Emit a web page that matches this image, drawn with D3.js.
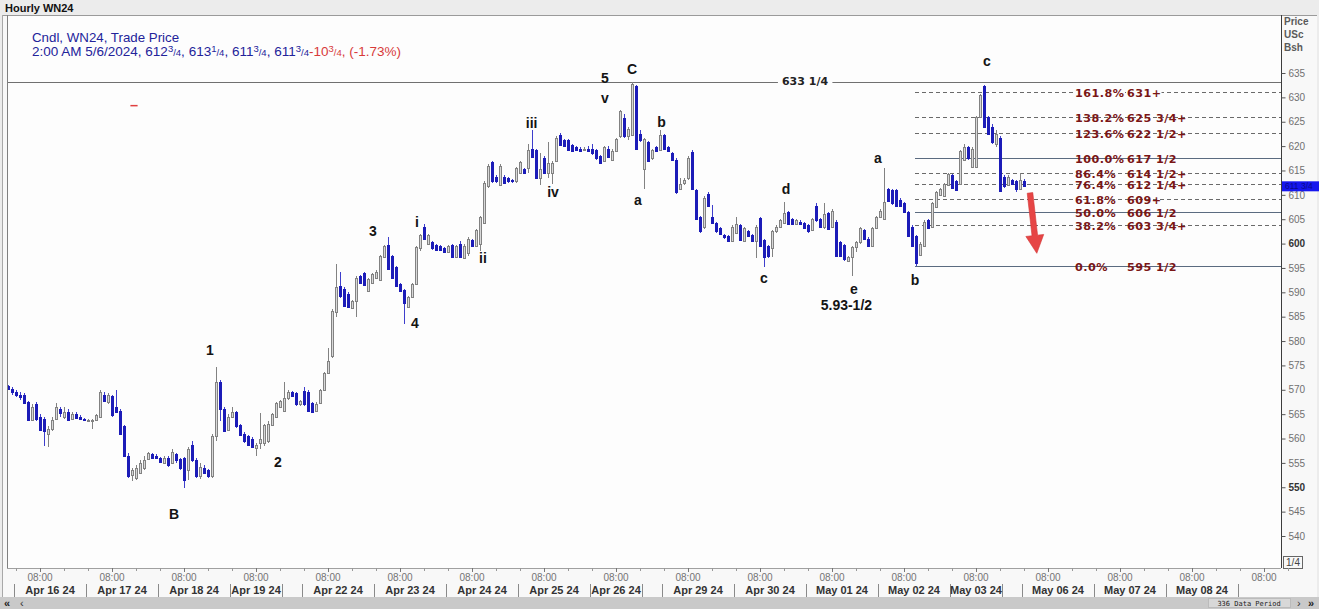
<!DOCTYPE html>
<html><head><meta charset="utf-8">
<script src="https://cdn.jsdelivr.net/npm/d3@7"></script>
<style>
html,body{margin:0;padding:0;background:#e9e9e9;overflow:hidden;}
svg{display:block;}
</style></head><body>
<svg id="c" width="1319" height="609"></svg>
<script>
// ---------- DATA ----------
// hourly candles [open, high, low, close], bar index 0 = first bar on the left
const candles = [
[570.75,571,570,570.25],[570.25,570.5,569,569.5],[569.5,570,568.5,569],[569,569.5,568,568.5],[569,569.25,567,567.25],
[567.5,567.75,563.5,563.75],[563.75,567,563.5,566.5],[567,567.5,563.5,564],[564.5,565,561.5,561.75],[564,564.5,558.5,561.5],
[561,562.5,558.25,562],[562,564.5,561.5,563.75],[564,567.25,563.75,566.5],[566,566.5,564.5,565.25],[564.5,566.5,564,565.5],
[565.5,566,563.5,563.75],[564,565.5,563.75,565],[565,565.5,564,564.25],[564.5,564.75,563.75,564],[564,564.25,563.5,563.75],
[563.75,564,563.5,563.75],[563.5,564,562,563.75],[563.75,565,563.5,564.75],[564.5,570,564.25,569.5],[569,569.5,567.5,567.75],
[567.5,569.25,567,569],[568.75,569,564.5,564.75],[566.5,570,565.25,565.5],[565.75,566,561,561],[562.5,562.75,556.25,556.5],
[556.5,557,552,552.25],[552.5,554,551.25,553.5],[552,554.5,551.5,554],[553,555.5,552.75,555],[554,556.5,553.5,555.5],
[555.75,557.25,555.5,557],[556.75,557,555.75,556],[556.5,556.75,555.75,556],[556,556.25,555,555.25],[555,556.5,554.75,556],
[556,556.5,554.25,554.5],[555,557.75,555,557.25],[556.75,557,555,555.5],[555.75,556,553.5,554],[556,556.25,549.75,551.5],
[553.5,558.25,551.5,557.75],[558.75,559.5,555.25,555.5],[555.5,556,552,552.25],[552.25,555,551.75,554.25],[554,554.5,552.75,553],
[553.5,553.75,552,552.25],[552.25,561,552,560.5],[560.5,574.75,559.5,571.5],[571.5,572,563.5,566],[566,566.5,561.25,561.5],
[561.75,565,561.5,564.5],[564.5,566.5,564.25,565.5],[565.5,565.75,562.25,562.5],[562.75,563,560.5,560.75],[561,561.25,559,559.5],
[560.5,560.75,558.5,558.75],[560,560.25,558,558.25],[558,559,556.5,558.75],[559,565.25,557.75,560],[559,563,558.5,562.75],
[559.5,563.5,559,563],[562.75,565.25,562.5,565],[564.5,567.5,564.25,567.25],[566.5,568,566.25,567.75],[565.75,571.5,565.5,568.25],
[568.25,570,568,569.5],[569.5,569.75,568.5,568.75],[569.25,569.5,566.75,567],[567,568,566.75,567.75],[569.75,570.5,566.75,567],
[569.5,570,565.5,565.75],[567.25,567.5,565.25,565.5],[565.75,567.5,565.5,567],[567.25,570.25,567,570],[570,573.75,569.75,573.5],
[573.5,578.5,573.25,576],[577,586.5,576.5,586.25],[586,595.75,585,591],[591.25,594.25,588.75,589.25],[590.75,591,587,587.25],
[589.75,590,586.75,587],[586.75,588.5,586.5,588.25],[588.25,593.25,585,593],[593.25,593.5,591.75,592],[594,594.25,591.25,591.5],
[590.25,593,590,592.75],[592,594,591.75,593.75],[593,594.5,592.75,594.25],[592.5,597.75,592.25,597.5],[597.25,599.75,597,599.5],
[599.75,601.25,594.5,594.75],[597.5,597.75,592.75,593],[595.25,595.5,591,591.25],[591.75,592,590,590.25],[590.5,590.75,583.5,587.75],
[587,589.25,586.75,589],[589,592,588.75,591.75],[591.75,599.5,591.5,599.25],[599,602,598.5,601.75],[603.5,604,600.75,601],
[600,602,599.75,601.75],[600.25,600.5,598.75,599],[599.75,600,598.5,598.75],[599.5,599.75,598.5,598.75],[599,599.25,598,598.25],
[598.25,599.75,598,599.5],[599.75,600,597,597.25],[597.25,599.75,597,599.5],[600,600.5,597,597.25],[597,600,596.75,599.5],
[598,601.25,597.5,601],[600.75,601,599.25,599.5],[599.5,603,599.25,602.75],[600,605.75,598.5,605.5],[604.25,612.75,604,612.5],
[611.75,616.25,611.5,616],[616.75,617,612.5,612.75],[613.75,614,612.5,612.75],[612,616.25,611.75,616],[613.75,614,612.25,612.5],
[613.5,613.75,612.5,612.75],[613,613.25,612.5,612.75],[612.75,615.75,612.5,615.5],[614.5,617,614.25,616.75],[615.25,615.5,614.25,614.5],
[615.5,620.5,614.5,619.25],[619.5,623.25,617.5,617.75],[619.25,619.5,613.25,613.5],[613.5,618.5,612,615.25],[617.5,618,614.25,614.5],
[614.5,620.75,613.5,616.5],[614.5,617,612.25,616.5],[617,622,616.75,621.75],[622.25,622.75,620,620.25],[621.25,621.5,619.75,620],
[621.25,621.5,619,619.25],[620.25,620.5,618.75,619],[619.75,620,619,619.25],[619.5,619.75,618.75,619],[619.25,619.75,619,619.5],
[619.5,620,618.75,619],[619.5,620.5,618.25,618.5],[619.25,619.5,617.25,617.5],[618,618.25,616.25,616.5],[617,620,616.75,619.75],
[619.5,620,617.5,617.75],[617.25,619.5,617,619],[619,621.75,618.75,621.5],[622,627.5,621.75,627.25],[625.75,626.5,621.75,622],
[622,624,621.25,623.5],[622.25,633.25,622,632.75],[632.25,632.5,619.25,619.5],[622.5,623.25,620.75,621.25],[615.25,621.75,611.25,621.5],
[620.75,621,616.75,617],[617.5,619.5,617.25,619.25],[619.75,620,618.75,619],[619.25,623.25,619,622.25],[622.25,622.5,619.25,619.5],
[619.75,620,618.75,619],[618.5,618.75,617,617.25],[617.25,617.5,610.25,610.5],[611.25,613.5,611,612.25],[612.5,613.5,612,613],
[613.5,618,613,617.5],[618.75,619.25,611,611.25],[611,611.25,604.75,605],[605.5,605.75,602.25,602.5],[603.5,609.75,603,609.25],
[610.25,610.5,607.5,607.75],[605.5,608,604,604.25],[604.25,604.5,602.25,602.5],[603.25,603.5,601.75,602],[601.75,602,601,601.25],
[601.5,601.75,600.25,600.5],[600.5,603.75,600.25,603.5],[602.25,605.5,602,604],[603.75,604,600.5,600.75],[600.5,603.5,600.25,603.25],
[602.5,602.75,601.25,601.5],[601.75,602,600.25,600.5],[600.5,603.75,597,603.5],[605.25,605.5,599.25,599.5],[600.75,601,595.25,597.25],
[599.5,599.75,597,597.5],[599,602.75,597.25,602.5],[602.5,603.75,602.25,603.5],[603.5,605,603.25,604.75],[604.25,608.5,604,606.25],
[606.5,606.75,603.75,604],[605,605.25,603.75,604],[604,605,603.75,604.75],[604.5,604.75,603.75,604],[604.25,604.5,603,603.25],
[603.75,604,602.25,602.5],[602.75,605.25,602.5,605],[607.75,608.25,604.5,604.75],[605,605.25,603.25,603.5],[603.5,608.25,603,606],
[606.25,606.5,602.75,603],[603.5,607,603.25,606.75],[604.5,604.75,597.25,597.5],[600.25,600.5,597.25,597.5],[599.75,600,596.5,596.75],
[596.5,597.5,596.25,597.25],[597.25,599.5,593.25,599.25],[599.25,600.5,598.25,600.25],[600.25,603.5,600,603.25],[602.75,603,600.75,601],
[601,601.25,599.25,599.5],[599.5,603.5,599.25,603.25],[603.25,605.75,603,605.5],[605.5,607,605.25,606.75],[605,615.5,604.75,608.5],
[611.25,611.5,608.5,608.75],[611,611.25,608,608.25],[611,611.25,607.5,607.75],[609,609.25,607.5,607.75],[608.25,608.5,606.25,606.5],
[606.5,606.75,601.25,601.5],[603.5,603.75,599.25,599.5],[601.5,601.75,595.5,596],[597.75,600.25,597.5,600],[599.5,604.75,599.25,604.5],
[604.75,605,603,603.25],[603.5,608.5,603.25,608.25],[607.5,610.75,607.25,610.5],[610,611.5,609.75,611.25],[609.75,612.5,609.5,612.25],
[612,614.5,611.75,614.25],[614,614.25,611.25,611.5],[612.75,613,610.75,611],[612.25,619.25,612,619],[617.25,620.5,617,619.75],
[619.75,620,617.25,617.5],[615.75,619.75,615.5,619.5],[615.75,626.25,615.5,626],[626,630.75,625.75,630.5],[632.25,632.5,623.75,624],
[626,626.25,622.25,622.5],[624,624.5,620.5,620.75],[620.5,623.25,619.75,622.5],[621.75,622,610.5,610.75],[613.75,614,611.5,611.75],
[612,614,611.75,613.75],[613,613.25,612,612.25],[612.75,613,610.5,611.25],[611.25,614.5,611,613],[612.75,613.25,611.75,611.75]
];
const priceTicks = [540,545,550,555,560,565,570,575,580,585,590,595,600,605,610,615,620,625,630,635];
const boldTicks = [550,600];
const hourTicks = [8,26,44,62,80,98,116,134,152,170,188,206,224,242,260,278,296,314]; // 08:00 bars
const dayLabels = ["Apr 16 24","Apr 17 24","Apr 18 24","Apr 19 24","Apr 22 24","Apr 23 24","Apr 24 24","Apr 25 24","Apr 26 24",
                   "Apr 29 24","Apr 30 24","May 01 24","May 02 24","May 03 24","May 06 24","May 07 24","May 08 24"];
const weekEndDays = ["Apr 19 24","Apr 26 24","May 03 24"];
const fibLow = 595.5, fibHigh = 617.5, fibStartBar = 226.75;
const fibRatios = [1.618,1.382,1.236,1.0,0.864,0.764,0.618,0.5,0.382,0.0];
const fibPct    = ["161.8%","138.2%","123.6%","100.0%","86.4%","76.4%","61.8%","50.0%","38.2%","0.0%"];
const fibText   = ["631+","625 3/4+","622 1/2+","617 1/2","614 1/2+","612 1/4+","609+","606 1/2","603 3/4+","595 1/2"];
const levelLine = {price:633.25, text:"633 1/4", labelBar:199.25};
const waveLabels = [
 {t:"1",i:50.5,p:578.2},{t:"2",i:67.5,p:555.2},{t:"B",i:41.5,p:544.5},{t:"3",i:91.25,p:602.6},{t:"4",i:101.75,p:583.7},
 {t:"i",i:102.25,p:604.4},{t:"ii",i:118.75,p:597.0},{t:"iii",i:130.9,p:624.7},{t:"iv",i:136.25,p:610.6},{t:"5",i:149.25,p:634.0},
 {t:"v",i:149.25,p:629.9},{t:"C",i:156,p:635.8},{t:"a",i:157.5,p:608.9},{t:"b",i:163.4,p:624.9},{t:"c",i:189,p:592.9},
 {t:"d",i:194.5,p:611.2},{t:"e",i:211.5,p:590.7},{t:"5.93-1/2",i:209.6,p:587.4},{t:"a",i:217.5,p:617.6},{t:"b",i:226.75,p:592.5},
 {t:"c",i:244.75,p:637.5}
];
const arrow = {from:[255.5,610.4], to:[257.2,598.0]};
const legendTitle = "Cndl, WN24, Trade Price";
const legendTime = "2:00 AM 5/6/2024";
const legendOHLC = ["612 3/4","613 1/4","611 3/4","611 3/4"];
const legendChange = "-10 3/4";
const legendPct = "(-1.73%)";
const lastPrice = 611.75;

// ---------- SCALES ----------
const W = 1319, H = 609;
const plotL = 7, plotR = 1281, plotT = 15, plotB = 568;
const xs = d3.scaleLinear().domain([0, 318]).range([8, 1280]);
const ys = d3.scaleLinear().domain([540, 635]).range([536, 73]);
const svg = d3.select("#c");
const SANS = "'Liberation Sans', Arial, sans-serif";
const VERD = "'DejaVu Sans', Verdana, sans-serif";

// backgrounds
svg.append("rect").attr("x",0).attr("y",0).attr("width",W).attr("height",H).attr("fill","#ececec");
svg.append("rect").attr("x",2).attr("y",15).attr("width",W-4).attr("height",582).attr("fill","#f8f8f8");
svg.append("rect").attr("x",plotL).attr("y",plotT).attr("width",plotR-plotL).attr("height",plotB-plotT).attr("fill","#fdfdfd");
svg.append("text").attr("x",5).attr("y",12).attr("font-family",SANS).attr("font-weight","bold").attr("font-size",11)
  .attr("fill","#111").text("Hourly WN24");

// frame lines
const frame = svg.append("g").attr("shape-rendering","crispEdges");
frame.append("line").attr("x1",2).attr("x2",W-2).attr("y1",15.5).attr("y2",15.5).attr("stroke","#9a9a9a");
frame.append("line").attr("x1",plotL+0.5).attr("x2",plotL+0.5).attr("y1",15).attr("y2",plotB).attr("stroke","#808080");
frame.append("line").attr("x1",2.5).attr("x2",2.5).attr("y1",15).attr("y2",597).attr("stroke","#a8a8a8");
frame.append("line").attr("x1",plotL).attr("x2",plotR).attr("y1",plotB+0.5).attr("y2",plotB+0.5).attr("stroke","#a0a0a0");

// clip
svg.append("clipPath").attr("id","pc").append("rect").attr("x",plotL+1).attr("y",plotT+1).attr("width",plotR-plotL-1).attr("height",plotB-plotT-1);
const plot = svg.append("g").attr("clip-path","url(#pc)");

// red tick mark near top-left
plot.append("line").attr("x1",xs(30.6)).attr("x2",xs(32.4)).attr("y1",ys(628.3)).attr("y2",ys(628.3))
  .attr("stroke","#e04040").attr("stroke-width",1.5);

// 633 1/4 line
plot.append("line").attr("x1",plotL).attr("x2",plotR).attr("y1",Math.round(ys(levelLine.price))+0.5).attr("y2",Math.round(ys(levelLine.price))+0.5)
  .attr("stroke","#707070").attr("shape-rendering","crispEdges");
{
  const t = plot.append("text").attr("x",xs(levelLine.labelBar)).attr("y",ys(levelLine.price)).attr("text-anchor","middle")
    .attr("dominant-baseline","central").attr("font-family",VERD).attr("font-weight","bold").attr("font-size",11)
    .attr("fill","#222").text(levelLine.text);
  const b = t.node().getBBox();
  plot.insert("rect","text").attr("x",b.x-4).attr("y",b.y+2).attr("width",b.width+8).attr("height",b.height-4).attr("fill","#fdfdfd");
}

// fib levels
const fibG = plot.append("g");
fibRatios.forEach((r,k)=>{
  const p = fibLow + r*(fibHigh-fibLow);
  const y = Math.round(ys(p))+0.5;
  const solid = (r===1 || r===0.5 || r===0);
  fibG.append("line").attr("x1",xs(fibStartBar)).attr("x2",plotR).attr("y1",y).attr("y2",y)
    .attr("stroke", solid ? "#5b6b80" : "#6a6a6a").attr("stroke-dasharray", solid ? null : "4,3")
    .attr("shape-rendering","crispEdges");
  [[fibPct[k],1075],[fibText[k],1127]].forEach(([s,x])=>{
    const t = fibG.append("text").attr("x",x).attr("y",y+0.5).attr("dominant-baseline","central")
      .attr("font-family",VERD).attr("font-weight","bold").attr("font-size",11.2).attr("letter-spacing",0.45)
      .attr("fill","#7a1616").text(s);
    const b = t.node().getBBox();
    fibG.insert("rect","text").attr("x",b.x-1).attr("y",y-4.5).attr("width",b.width+1).attr("height",9).attr("fill","#fdfdfd");
  });
});
fibG.selectAll("text").raise();

// candles
const cg = plot.append("g").attr("shape-rendering","crispEdges");
const UP_FILL = "#d8d8d8", UP_STROKE = "#828282", DN_FILL = "#1c1cb8", DN_WICK = "#3e3ecc";
cg.selectAll("line.w").data(candles).join("line").attr("class","w")
  .attr("x1",(d,i)=>Math.round(xs(i))+0.5).attr("x2",(d,i)=>Math.round(xs(i))+0.5)
  .attr("y1",d=>ys(d[1])).attr("y2",d=>ys(d[2]))
  .attr("stroke",d=>d[3]>=d[0]?UP_STROKE:DN_WICK);
cg.selectAll("rect.b").data(candles).join("rect").attr("class","b")
  .attr("x",(d,i)=>Math.round(xs(i))-0.5)
  .attr("y",d=>Math.round(ys(Math.max(d[0],d[3])))+0.5)
  .attr("width",2)
  .attr("height",d=>Math.max(0.5, Math.round(ys(Math.min(d[0],d[3])))-Math.round(ys(Math.max(d[0],d[3])))))
  .attr("fill",d=>d[3]>=d[0]?UP_FILL:DN_FILL)
  .attr("stroke",d=>d[3]>=d[0]?UP_STROKE:DN_FILL);

// wave labels
plot.selectAll("text.wl").data(waveLabels).join("text").attr("class","wl")
  .attr("x",d=>xs(d.i)).attr("y",d=>ys(d.p)).attr("text-anchor","middle").attr("dominant-baseline","central")
  .attr("font-family",SANS).attr("font-weight","bold").attr("font-size",14).attr("fill","#141414").text(d=>d.t);

// red arrow
{
  const x0 = xs(arrow.from[0]), y0 = ys(arrow.from[1]), x1 = xs(arrow.to[0]), y1 = ys(arrow.to[1]);
  const dx = x1-x0, dy = y1-y0, L = Math.hypot(dx,dy), ux = dx/L, uy = dy/L, nx = -uy, ny = ux;
  const sw = 2.8, hl = 18, hw = 9;
  const bx = x1-ux*hl, by = y1-uy*hl;
  const pts = [[x0+nx*sw,y0+ny*sw],[bx+nx*sw,by+ny*sw],[bx+nx*hw,by+ny*hw],[x1,y1],[bx-nx*hw,by-ny*hw],[bx-nx*sw,by-ny*sw],[x0-nx*sw,y0-ny*sw]];
  plot.append("path").attr("d","M"+pts.map(p=>p.join(",")).join("L")+"Z").attr("fill","#e64545").attr("stroke","#d23535").attr("stroke-width",0.6);
}

// legend
svg.append("text").attr("x",32).attr("y",42).attr("font-family",SANS).attr("font-size",13.3).attr("fill","#23239a").text(legendTitle);
{
  const t = svg.append("text").attr("x",32).attr("y",56).attr("font-family",SANS).attr("font-size",13.5).attr("fill","#23239a");
  const addPrice = (s, color) => {
    const [whole, frac] = s.split(" ");
    t.append("tspan").attr("fill",color).text(whole);
    if (frac) {
      const [n,dd] = frac.split("/");
      t.append("tspan").attr("fill",color).attr("font-size",9.5).attr("dy",-4.5).text(n);
      t.append("tspan").attr("fill",color).attr("font-size",9.5).attr("dy",4.5).text("/"+dd);
    }
  };
  t.append("tspan").text(legendTime + ", ");
  legendOHLC.forEach((s,k)=>{ addPrice(s,"#23239a"); if(k<legendOHLC.length-1) t.append("tspan").text(", "); });
  addPrice(legendChange,"#d83a3a");
  t.append("tspan").attr("fill","#d83a3a").text(", " + legendPct);
}

// right axis
const ax = svg.append("g").attr("transform",`translate(${plotR+0.5},0)`)
  .call(d3.axisRight(ys).tickValues(priceTicks).tickSize(4).tickPadding(3).tickFormat(d=>d));
ax.select(".domain").attr("d",`M0,${plotT}V${plotB}`).attr("stroke","#3c3c3c");
ax.selectAll(".tick line").attr("stroke","#555");
ax.selectAll(".tick text").attr("font-family",SANS).attr("font-size",10)
  .attr("fill",d=>boldTicks.includes(d)?"#333":"#707070").attr("font-weight",d=>boldTicks.includes(d)?"bold":"normal");
["Price","USc","Bsh"].forEach((s,k)=>svg.append("text").attr("x",1284).attr("y",25+k*13).attr("font-family",SANS)
  .attr("font-weight","bold").attr("font-size",10).attr("fill","#5a5a5a").text(s));
// last price marker
{
  const y = ys(lastPrice);
  svg.append("rect").attr("x",plotR+1).attr("y",y-5).attr("width",W-plotR-1).attr("height",10).attr("fill","#1616ee");
  svg.append("text").attr("x",plotR+4).attr("y",y).attr("dominant-baseline","central").attr("font-family",SANS)
    .attr("font-size",8.5).attr("fill","#0a0a8a").text("611 3/4");
}
// 1/4 box
svg.append("rect").attr("x",1283.5).attr("y",556.5).attr("width",19).attr("height",12).attr("fill","#f8f8f8").attr("stroke","#666");
svg.append("text").attr("x",1293).attr("y",566).attr("text-anchor","middle").attr("font-family",SANS).attr("font-size",10)
  .attr("fill","#444").text("1/4");

// x axis
const xa = svg.append("g").attr("shape-rendering","crispEdges");
hourTicks.forEach(t=>{
  const x = Math.round(xs(t))+0.5;
  xa.append("line").attr("x1",x).attr("x2",x).attr("y1",plotB).attr("y2",plotB+4).attr("stroke","#777");
  [-6,6].forEach(o=>{ const xx = Math.round(xs(t+o))+0.5;
    xa.append("line").attr("x1",xx).attr("x2",xx).attr("y1",plotB).attr("y2",plotB+3).attr("stroke","#999"); });
  svg.append("text").attr("x",xs(t)).attr("y",581).attr("text-anchor","middle").attr("font-family",SANS).attr("font-size",10)
    .attr("fill","#747474").text("08:00");
});
const sepLine = x => xa.append("line").attr("x1",Math.round(x)+0.5).attr("x2",Math.round(x)+0.5).attr("y1",584).attr("y2",597).attr("stroke","#8a8a8a");
dayLabels.forEach((lab,k)=>{
  const t = hourTicks[k];
  const s = xs(t-6.5);
  const fri = weekEndDays.includes(lab);
  const e = fri ? xs(t+6.5) : xs(hourTicks[k+1]-6.5);
  sepLine(s); if (fri) sepLine(e);
  svg.append("text").attr("x",(s+e)/2).attr("y",594).attr("text-anchor","middle").attr("font-family",SANS)
    .attr("font-weight","bold").attr("font-size",11).attr("fill","#333").text(lab);
});
sepLine(xs(hourTicks[dayLabels.length]-6.5));

// bottom scroll strip
svg.append("rect").attr("x",0).attr("y",597).attr("width",W).attr("height",12).attr("fill","#c9c9c9");
svg.append("text").attr("x",4).attr("y",607).attr("font-family",SANS).attr("font-weight","bold").attr("font-size",11).attr("fill","#222").text("«");
svg.append("text").attr("x",20).attr("y",607).attr("font-family",SANS).attr("font-size",11).attr("fill","#333").text("‹");
svg.append("rect").attr("x",1208.5).attr("y",598.5).attr("width",82).attr("height",9).attr("fill","#d8d8d8").attr("stroke","#bbb");
svg.append("text").attr("x",1249).attr("y",606).attr("text-anchor","middle").attr("font-family","'DejaVu Sans Mono', monospace")
  .attr("font-size",7).attr("fill","#222").text("336 Data Period");
svg.append("text").attr("x",1297).attr("y",607).attr("font-family",SANS).attr("font-size",11).attr("fill","#333").text("›");
svg.append("text").attr("x",1308).attr("y",607).attr("font-family",SANS).attr("font-weight","bold").attr("font-size",11).attr("fill","#222").text("»");
</script>
</body></html>
